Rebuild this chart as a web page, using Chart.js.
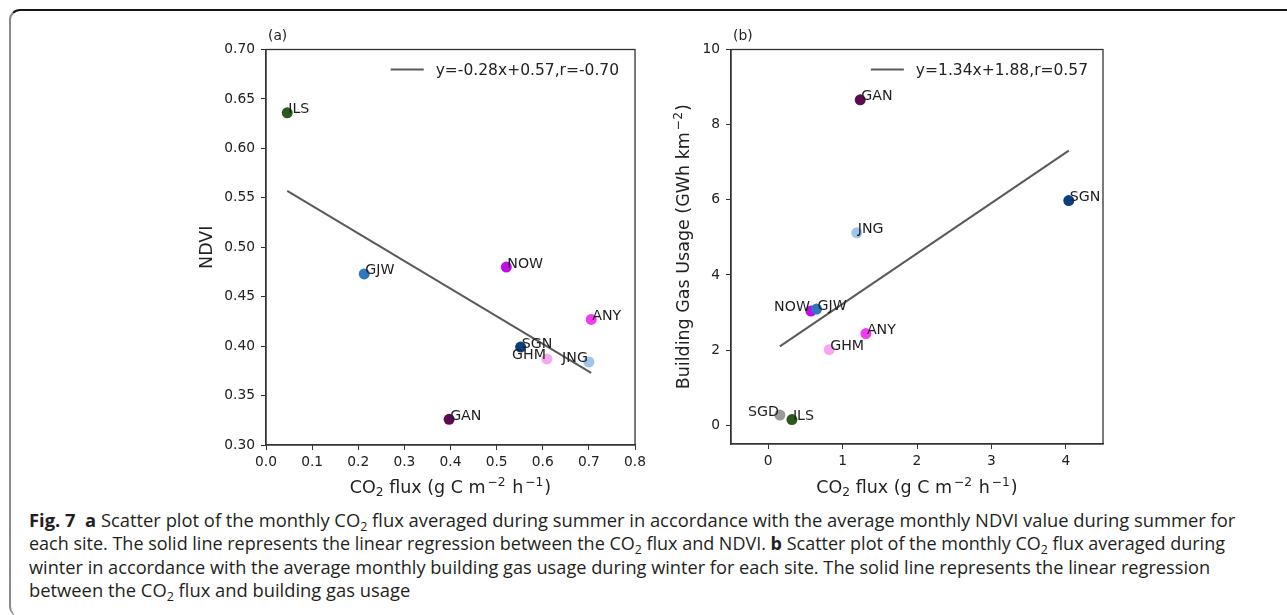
<!DOCTYPE html>
<html>
<head>
<meta charset="utf-8">
<script src="https://cdn.jsdelivr.net/npm/chart.js@4.4.1/dist/chart.umd.min.js"></script>
<style>
  body { margin: 0; width: 1287px; height: 615px; background: #fff; overflow: hidden; position: relative; }
  #frame { position: absolute; left: 9px; top: 9px; width: 1300px; height: 606px;
           border-top: 2px solid #161616; border-left: 2px solid #8a8a8a; border-radius: 11px 0 0 11px; }
  canvas { position: absolute; }
  #cap { position: absolute; left: 29px; top: 508px;
         font-family: "Open Sans"; font-size: 18.5px; line-height: 23.3px; color: #231f20; }
  #cap .ln { width: max-content; white-space: nowrap; transform-origin: 0 0; }
  #cap sub { font-size: 0.68em; vertical-align: -0.3em; line-height: 0; }
</style>
</head>
<body>
<div id="frame"></div>
<canvas id="chartA" width="470" height="480" style="left:180px;top:20px"></canvas>
<canvas id="chartB" width="480" height="480" style="left:640px;top:20px"></canvas>
<div id="cap">
  <div class="ln" data-w="1206"><b>Fig. 7</b>&nbsp; <b>a</b> Scatter plot of the monthly CO<sub>2</sub> flux averaged during summer in accordance with the average monthly NDVI value during summer for</div>
  <div class="ln" data-w="1196">each site. The solid line represents the linear regression between the CO<sub>2</sub> flux and NDVI. <b>b</b> Scatter plot of the monthly CO<sub>2</sub> flux averaged during</div>
  <div class="ln" data-w="1181">winter in accordance with the average monthly building gas usage during winter for each site. The solid line represents the linear regression</div>
  <div class="ln" data-w="381">between the CO<sub>2</sub> flux and building gas usage</div>
</div>
<script>
// (a) summer: CO2 flux vs NDVI
const sitesA = ['ILS', 'GJW', 'NOW', 'ANY', 'SGN', 'GHM', 'JNG', 'GAN'];
const fluxSummer = [0.046, 0.213, 0.521, 0.705, 0.552, 0.609, 0.700, 0.397];
const ndviSummer = [0.636, 0.473, 0.480, 0.427, 0.399, 0.387, 0.384, 0.326];
const fitXA = [0.046, 0.705];
const fitYA = [0.557, 0.373];
const legendA = 'y=-0.28x+0.57,r=-0.70';
const xTicksA = [0, 0.1, 0.2, 0.3, 0.4, 0.5, 0.6, 0.7, 0.8];
const yTicksA = [0.30, 0.35, 0.40, 0.45, 0.50, 0.55, 0.60, 0.65, 0.70];

// (b) winter: CO2 flux vs building gas usage
const sitesB = ['GAN', 'SGN', 'JNG', 'NOW', 'GJW', 'ANY', 'GHM', 'SGD', 'ILS'];
const fluxWinter = [1.237, 4.04, 1.19, 0.574, 0.65, 1.313, 0.82, 0.157, 0.319];
const gasWinter = [8.66, 5.98, 5.12, 3.04, 3.09, 2.44, 2.01, 0.27, 0.15];
const fitXB = [0.157, 4.04];
const fitYB = [2.10, 7.31];
const legendB = 'y=1.34x+1.88,r=0.57';
const xTicksB = [0, 1, 2, 3, 4];
const yTicksB = [0, 2, 4, 6, 8, 10];

// axis titles, [text, 0 normal | 1 superscript | -1 subscript]
const xTitle = [['CO', 0], ['2', -1], [' flux (g C m', 0], ['−2', 1], [' h', 0], ['−1', 1], [')', 0]];
const yTitleA = [['NDVI', 0]];
const yTitleB = [['Building Gas Usage (GWh km', 0], ['−2', 1], [')', 0]];

// styling
const siteColor = {
  ILS: '#2c5a1c', GJW: '#2f78c0', NOW: '#c20be6', ANY: '#f23cf0', SGN: '#0a3f7e',
  GHM: '#f9a6f2', JNG: '#9ec4ea', GAN: '#5c0b50', SGD: '#9a9a9a'
};
const ink = '#222';
const axisCol = '#333';
const FONT = '"DejaVu Sans"';

Chart.defaults.font.family = FONT;
Chart.defaults.font.size = 13.8;
Chart.defaults.color = ink;

// box round the plot area, like matplotlib spines
const frameBox = {
  id: 'frameBox',
  afterDatasetsDraw(chart) {
    const { ctx, chartArea: a } = chart;
    ctx.save();
    ctx.strokeStyle = axisCol;
    ctx.lineWidth = 1.3;
    ctx.strokeRect(a.left, a.top, a.right - a.left, a.bottom - a.top);
    ctx.restore();
  }
};

// site names written next to each point
const siteNames = {
  id: 'siteNames',
  afterDatasetsDraw(chart, args, opts) {
    const { ctx } = chart;
    const meta = chart.getDatasetMeta(1);
    ctx.save();
    ctx.font = '14.2px ' + FONT;
    ctx.fillStyle = '#1e1e1e';
    ctx.textBaseline = 'alphabetic';
    meta.data.forEach((pt, i) => {
      const name = opts.names[i];
      const right = opts.leftSide.includes(name);
      ctx.textAlign = right ? 'right' : 'left';
      ctx.fillText(name, pt.x + (right ? -1 : 1), pt.y + 0.5);
    });
    ctx.restore();
  }
};

// legend for the regression line (upper right, no frame)
const fitLegend = {
  id: 'fitLegend',
  afterDraw(chart, args, opts) {
    const ds = chart.data.datasets[0];
    const { ctx, chartArea: a } = chart;
    ctx.save();
    ctx.font = opts.size + 'px ' + FONT;
    const w = ctx.measureText(ds.label).width;
    const tx = a.right - opts.right - w;
    const y = a.top + 20;
    ctx.fillStyle = ink;
    ctx.textBaseline = 'alphabetic';
    ctx.fillText(ds.label, tx, y + opts.size * 0.36);
    ctx.strokeStyle = ds.borderColor;
    ctx.lineWidth = ds.borderWidth;
    ctx.beginPath();
    ctx.moveTo(tx - 12 - 33, y);
    ctx.lineTo(tx - 12, y);
    ctx.stroke();
    ctx.restore();
  }
};

// text with sub/superscripts, centred on the current origin
function drawRich(ctx, segs, size) {
  const small = size * 0.7;
  const parts = segs.map(([t, k]) => {
    ctx.font = (k ? small : size) + 'px ' + FONT;
    return { t: t, k: k, w: ctx.measureText(t).width + (k === 1 ? 3 : 0) };
  });
  const total = parts.reduce((s, p) => s + p.w, 0);
  let x = -total / 2;
  parts.forEach(p => {
    ctx.font = (p.k ? small : size) + 'px ' + FONT;
    const dy = p.k === 1 ? -size * 0.4 : (p.k === -1 ? size * 0.18 : 0);
    ctx.fillText(p.t, x + (p.k === 1 ? 2 : 0), dy);
    x += p.w;
  });
}

// axis titles + "(a)" / "(b)" tag
const axisTitles = {
  id: 'axisTitles',
  afterDraw(chart, args, opts) {
    const { ctx, chartArea: a } = chart;
    ctx.save();
    ctx.fillStyle = ink;
    ctx.textAlign = 'left';
    ctx.textBaseline = 'alphabetic';
    ctx.font = '13.8px ' + FONT;
    ctx.fillText(opts.tag, a.left + 2, a.top - 9.5);

    ctx.save();
    ctx.translate((a.left + a.right) / 2, opts.xBase);
    drawRich(ctx, opts.x, opts.size);
    ctx.restore();

    ctx.save();
    ctx.translate(opts.yBase, (a.top + a.bottom) / 2);
    ctx.rotate(-Math.PI / 2);
    drawRich(ctx, opts.y, opts.size);
    ctx.restore();
    ctx.restore();
  }
};

function panel(id, o) {
  const pts = o.x.map((x, i) => ({ x: x, y: o.y[i] }));
  const fit = o.fitX.map((x, i) => ({ x: x, y: o.fitY[i] }));
  return new Chart(document.getElementById(id), {
    type: 'scatter',
    data: {
      datasets: [
        { type: 'line', label: o.legend, data: fit, borderColor: '#5a5a5a', borderWidth: 2,
          pointRadius: 0, fill: false, tension: 0 },
        { label: 'sites', data: pts, pointRadius: 5.5, pointHoverRadius: 5.5, borderWidth: 0,
          backgroundColor: o.names.map(n => siteColor[n]) }
      ]
    },
    options: {
      responsive: false,
      animation: false,
      events: [],
      layout: { padding: { top: 29.5, right: o.padRight, left: 0, bottom: 0 } },
      scales: {
        x: {
          type: 'linear', min: o.xMin, max: o.xMax,
          afterBuildTicks: s => { s.ticks = o.xTicks.map(v => ({ value: v })); },
          afterFit: s => { s.height = o.xHeight; },
          grid: { drawOnChartArea: false, tickLength: 5, color: axisCol, tickColor: axisCol },
          border: { color: axisCol, width: 1.3 },
          ticks: { padding: 4, maxRotation: 0, autoSkip: false, callback: o.xFmt }
        },
        y: {
          type: 'linear', min: o.yMin, max: o.yMax,
          afterBuildTicks: s => { s.ticks = o.yTicks.map(v => ({ value: v })); },
          afterFit: s => { s.width = o.yWidth; },
          grid: { drawOnChartArea: false, tickLength: 5, color: axisCol, tickColor: axisCol },
          border: { color: axisCol, width: 1.3 },
          ticks: { padding: 6, autoSkip: false, callback: o.yFmt }
        }
      },
      plugins: {
        legend: { display: false },
        tooltip: { enabled: false },
        siteNames: { names: o.names, leftSide: o.leftSide },
        fitLegend: { size: 15.5, right: o.legendRight },
        axisTitles: { tag: o.tag, x: xTitle, y: o.yTitle, size: 17.5, xBase: 472.5, yBase: o.yBase }
      }
    },
    plugins: [frameBox, siteNames, fitLegend, axisTitles]
  });
}

panel('chartA', {
  names: sitesA, x: fluxSummer, y: ndviSummer, fitX: fitXA, fitY: fitYA, legend: legendA,
  xMin: 0, xMax: 0.8, yMin: 0.3, yMax: 0.7, xTicks: xTicksA, yTicks: yTicksA,
  xFmt: v => v.toFixed(1), yFmt: v => v.toFixed(2),
  yTitle: yTitleA, yBase: 31.5, yWidth: 86, xHeight: 55, padRight: 12,
  leftSide: ['GHM', 'JNG'], legendRight: 16, tag: '(a)'
});

panel('chartB', {
  names: sitesB, x: fluxWinter, y: gasWinter, fitX: fitXB, fitY: fitYB, legend: legendB,
  xMin: -0.5, xMax: 4.5, yMin: -0.5, yMax: 10, xTicks: xTicksB, yTicks: yTicksB,
  xFmt: v => String(v), yFmt: v => String(v),
  yTitle: yTitleB, yBase: 49, yWidth: 91, xHeight: 56, padRight: 17,
  leftSide: ['NOW', 'SGD'], legendRight: 15, tag: '(b)'
});

// fit each caption line to the width it has in the reference
document.querySelectorAll('#cap .ln').forEach(ln => {
  const s = Number(ln.dataset.w) / ln.offsetWidth;
  ln.style.transform = 'scaleX(' + s.toFixed(4) + ')';
});
</script>
</body>
</html>
